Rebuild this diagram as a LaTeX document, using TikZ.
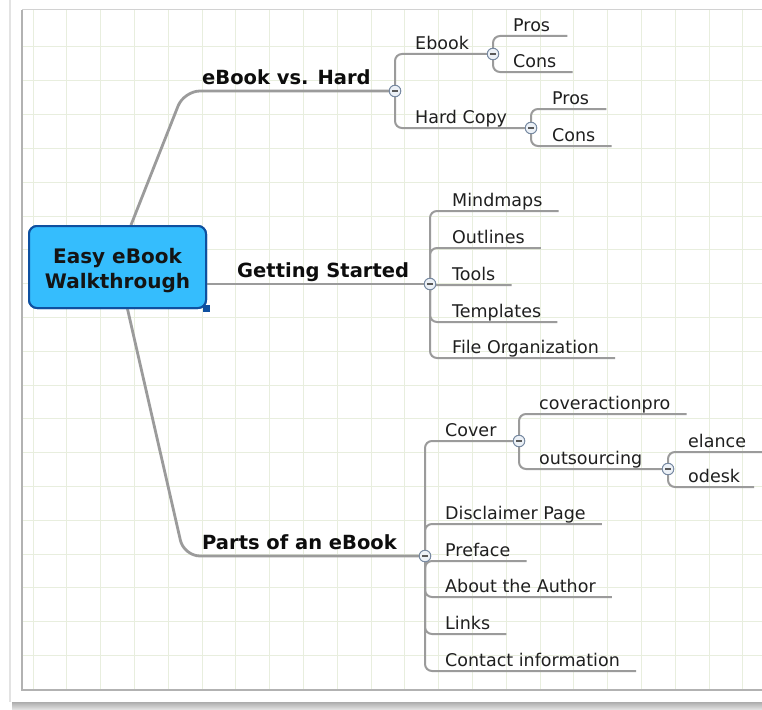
\documentclass[tikz,border=0pt]{standalone}
\usepackage{fontspec}
\setmainfont{DejaVu Sans}
\definecolor{gridc}{RGB}{232,238,222}
\definecolor{linkgray}{RGB}{155,155,155}
\definecolor{hubfill}{RGB}{53,189,253}
\definecolor{hubborder}{RGB}{14,80,160}
\definecolor{togborder}{RGB}{120,138,162}
\definecolor{togfill}{RGB}{236,241,247}
\begin{document}
\begin{tikzpicture}[x=1pt,y=-1pt,
  leaf/.style={font=\fontsize{17.5}{20}\selectfont, text=black!88, inner sep=0pt, text depth=4pt, anchor=south west},
  mainlbl/.style={font=\fontsize{19.5}{22}\selectfont\bfseries, text=black!95, inner sep=0pt, text depth=6pt, anchor=south west},
  link/.style={draw=linkgray, line width=2pt, rounded corners=7pt},
  trunk/.style={draw=linkgray, line width=2.8pt, rounded corners=16pt},
  toggle/.style={circle, draw=togborder, fill=togfill, line width=0.9pt, minimum size=11.5pt, inner sep=0pt,
    path picture={\draw[black!65, line width=1.1pt] ([xshift=-2.6pt]path picture bounding box.center) -- ([xshift=2.6pt]path picture bounding box.center);}},
  hubstyle/.style={rectangle, rounded corners=8pt, fill=hubfill, draw=hubborder, line width=2pt,
    minimum width=177pt, minimum height=82pt, inner sep=0pt},
  hubtxt/.style={align=center, inner sep=0pt, font=\fontsize{20}{25}\selectfont\bfseries, text=black!92},
]
% page and panel
\fill[white] (0,0) rectangle (762,709);
\useasboundingbox (0,0) rectangle (762,709);
\shade[top color=gray!65, bottom color=gray!25] (12,702) rectangle (762,709);
\draw[gray!22, line width=1.6pt] (10,0) -- (10,702);
\fill[white] (22,10) rectangle (762,690);
\foreach \k in {0,...,21} \draw[gridc, line width=1pt] ({33+33.8*\k},10) -- ({33+33.8*\k},690);
\foreach \k in {1,...,19} \draw[gridc, line width=1pt] (22,{13.2+33.8*\k}) -- (762,{13.2+33.8*\k});
\draw[gray!35, line width=1pt] (762,10) -- (22,10);
\draw[gray!60, line width=1.2pt] (22,10) -- (22,690) -- (762,690);

% central node
\node[hubstyle] (hub) at (117.5,267) {};

% level 1
\node[mainlbl] (ebh) at (202,91) {eBook vs. Hard};
\node[mainlbl] (gs) at (237,284) {Getting Started};
\node[mainlbl] (parts) at (202,556) {Parts of an eBook};
\node[toggle] (t0) at (395,91) {};
\node[toggle] (t1) at (430,284) {};
\node[toggle] (t2) at (425,556) {};

% level 2 / 3 labels
\node[leaf] (ebook) at (415,54) {Ebook};
\node[leaf] (hard) at (415,128) {Hard Copy};
\node[toggle] (ta1) at (493,54) {};
\node[toggle] (ta2) at (531,128) {};
\node[leaf] (pros1) at (513,36) {Pros};
\node[leaf] (cons1) at (513,72) {Cons};
\node[leaf] (pros2) at (552,109) {Pros};
\node[leaf] (cons2) at (552,146) {Cons};

\node[leaf] (mind) at (452,211) {Mindmaps};
\node[leaf] (outl) at (452,248) {Outlines};
\node[leaf] (tools) at (452,285) {Tools};
\node[leaf] (templ) at (452,322) {Templates};
\node[leaf] (fileorg) at (452,358) {File Organization};

\node[leaf] (cover) at (445,441) {Cover};
\node[toggle] (tc1) at (519,441) {};
\node[leaf] (cap) at (539,414) {coveractionpro};
\node[leaf] (outs) at (539,469) {outsourcing};
\node[toggle] (tc2) at (668,469) {};
\node[leaf] (elance) at (688,452) {elance};
\node[leaf] (odesk) at (688,487) {odesk};
\node[leaf] (discl) at (445,524) {Disclaimer Page};
\node[leaf] (pref) at (445,561) {Preface};
\node[leaf] (about) at (445,597) {About the Author};
\node[leaf] (links) at (445,634) {Links};
\node[leaf] (contact) at (445,671) {Contact information};

% connectors
\draw[trunk] ([xshift=13.5pt]hub.north) -- (184,91) -- (t0);
\draw[trunk] (hub.east |- t1) -- (t1);
\draw[trunk] ([xshift=10pt]hub.south) -- (184,556) -- (t2);

\draw[link] (t0) |- (ebook.south west) -- (ta1);
\draw[link] (t0) |- (hard.south west) -- (ta2);
\draw[link] (ta1) |- (pros1.south west) -- ([xshift=17pt]pros1.south east);
\draw[link] (ta1) |- (cons1.south west) -- ([xshift=16pt]cons1.south east);
\draw[link] (ta2) |- (pros2.south west) -- ([xshift=17pt]pros2.south east);
\draw[link] (ta2) |- (cons2.south west) -- ([xshift=16pt]cons2.south east);

\foreach \n in {mind,outl,tools,templ,fileorg}
  \draw[link] (t1) |- (\n.south west) -- ([xshift=16pt]\n.south east);

\draw[link] (t2) |- (cover.south west) -- (tc1);
\foreach \n in {discl,pref,about,links,contact}
  \draw[link] (t2) |- (\n.south west) -- ([xshift=16pt]\n.south east);
\draw[link] (tc1) |- (cap.south west) -- ([xshift=16pt]cap.south east);
\draw[link] (tc1) |- (outs.south west) -- (tc2);
\draw[link] (tc2) |- (elance.south west) -- (elance.south west -| 764,0);
\draw[link] (tc2) |- (odesk.south west) -- ([xshift=14pt]odesk.south east);

% redraw toggles and hub on top
\foreach \p/\n in {{395,91}/t0,{430,284}/t1,{425,556}/t2,{493,54}/ta1,{531,128}/ta2,{519,441}/tc1,{668,469}/tc2}
  \node[toggle] at (\p) {};
\node[hubstyle] at (hub.center) {};
\node[hubtxt] (hubtext) at (117.5,271) {Easy eBook\\Walkthrough};
\node[fill=hubborder, minimum size=7pt, inner sep=0pt] (handle) at ([xshift=-1pt,yshift=1pt]hub.south east) {};
\end{tikzpicture}
\end{document}
